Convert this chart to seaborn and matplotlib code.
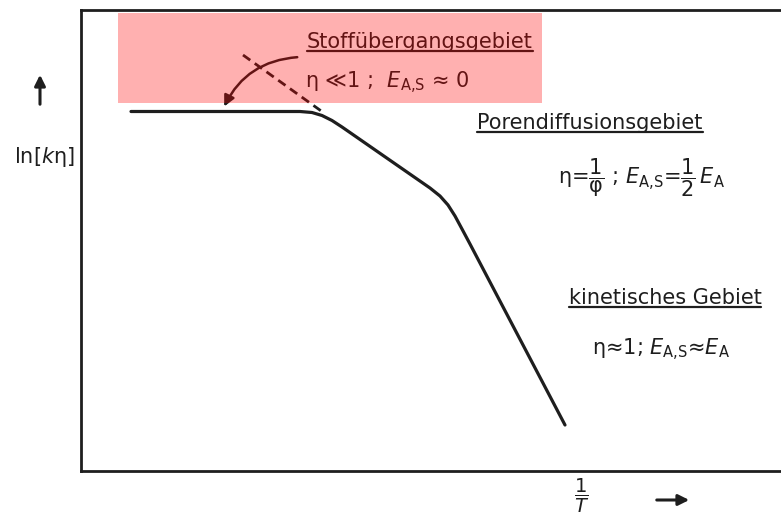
import matplotlib
matplotlib.use("Agg")
import matplotlib.pyplot as plt
from matplotlib.patches import Rectangle, FancyArrowPatch
from matplotlib.lines import Line2D
import seaborn as sns
import pandas as pd

sns.set_style("white")
plt.rcParams["font.family"] = ["DejaVu Sans"]
plt.rcParams["mathtext.fontset"] = "dejavusans"

# Schematic Arrhenius curve: ln(k*eta) versus 1/T (arbitrary units)
inv_T = [50, 219, 231, 241, 251, 261, 349, 359, 367, 374, 381, 389, 484]
ln_k_eta = [359.5, 359.5, 358.5, 355.5, 350.5, 344, 283, 275, 266, 255, 242, 227, 46]

# Extrapolated pore-diffusion slope (dashed)
dash_x = [162, 243]
dash_y = [416, 358]

INK = "#1e1e1e"
W, H = 781, 518

fig = plt.figure(figsize=(W / 100, H / 100), dpi=100)
ax = fig.add_axes([81 / W, 47 / H, 700 / W, 461 / H])
ax.set_xlim(0, 700)
ax.set_ylim(0, 461)

curve = pd.DataFrame({"inv_T": inv_T, "ln_k_eta": ln_k_eta})
sns.lineplot(data=curve, x="inv_T", y="ln_k_eta", sort=False, ax=ax,
             color=INK, lw=2.3, solid_capstyle="round", solid_joinstyle="round")
ax.plot(dash_x, dash_y, color=INK, lw=2.0, ls=(0, (3.2, 2.0)))

ax.set_xticks([])
ax.set_yticks([])
ax.set_xlabel("")
ax.set_ylabel("")
for side in ("left", "top", "bottom"):
    ax.spines[side].set_color(INK)
    ax.spines[side].set_linewidth(2.0)
ax.spines["right"].set_visible(False)


def px(x, y):
    """Figure pixel position (origin top-left) -> figure fraction."""
    return x / W, 1 - y / H


fs = 15
EAS = r"$E_{\mathrm{A{,}S}}$"
labels = []

# Region: mass transfer
t1 = fig.text(*px(420, 42), "Stoffübergangsgebiet", ha="center", va="center",
              fontsize=fs, color=INK)
labels.append(t1)
fig.text(*px(305, 83), "η ≪1 ;  " + EAS + " ≈ 0", ha="left", va="center",
         fontsize=fs, color=INK)

# Region: pore diffusion
t2 = fig.text(*px(590, 123), "Porendiffusionsgebiet", ha="center", va="center",
              fontsize=fs, color=INK)
labels.append(t2)
fig.text(*px(641, 178),
         r"$\mathrm{\eta}$=$\dfrac{1}{\mathrm{\varphi}}$ ; " + EAS
         + r"=$\dfrac{1}{2}\,E_{\mathrm{A}}$",
         ha="center", va="center", fontsize=fs, color=INK)

# Region: kinetic
t3 = fig.text(*px(665, 298), "kinetisches Gebiet", ha="center", va="center",
              fontsize=fs, color=INK)
labels.append(t3)
fig.text(*px(661, 350), "η≈1; " + EAS + r"≈$E_{\mathrm{A}}$",
         ha="center", va="center", fontsize=fs, color=INK)

# Axis labels with arrows
fig.text(*px(44, 157), "ln[$k$η]", ha="center", va="center", fontsize=fs, color=INK)
fig.text(*px(582, 496), r"$\dfrac{1}{T}$", ha="center", va="center",
         fontsize=14, color=INK)
fig.add_artist(FancyArrowPatch(
    px(40, 107), px(40, 72), transform=fig.transFigure, arrowstyle="-|>",
    mutation_scale=16, lw=2.2, color=INK))
fig.add_artist(FancyArrowPatch(
    px(654, 500), px(692, 500), transform=fig.transFigure, arrowstyle="-|>",
    mutation_scale=16, lw=2.2, color=INK))

# Curved pointer onto the plateau
fig.add_artist(FancyArrowPatch(
    px(300, 57), px(223, 109), transform=fig.transFigure, arrowstyle="-|>",
    connectionstyle="arc3,rad=0.3", mutation_scale=16, lw=1.8, color=INK))

# Underline region titles
fig.canvas.draw()
renderer = fig.canvas.get_renderer()
for t in labels:
    bb = t.get_window_extent(renderer)
    yline = bb.y0 + 1
    fig.add_artist(Line2D([bb.x0 / W, bb.x1 / W], [yline / H, yline / H],
                          transform=fig.transFigure, color=INK, lw=1.6))

# Translucent highlight over the mass-transfer annotation
fig.add_artist(Rectangle(px(118, 103), (542 - 118) / W, (103 - 13) / H,
                         transform=fig.transFigure, facecolor="#ff0000",
                         alpha=0.31, edgecolor="none", zorder=20))

fig.savefig("out.png", dpi=100)
